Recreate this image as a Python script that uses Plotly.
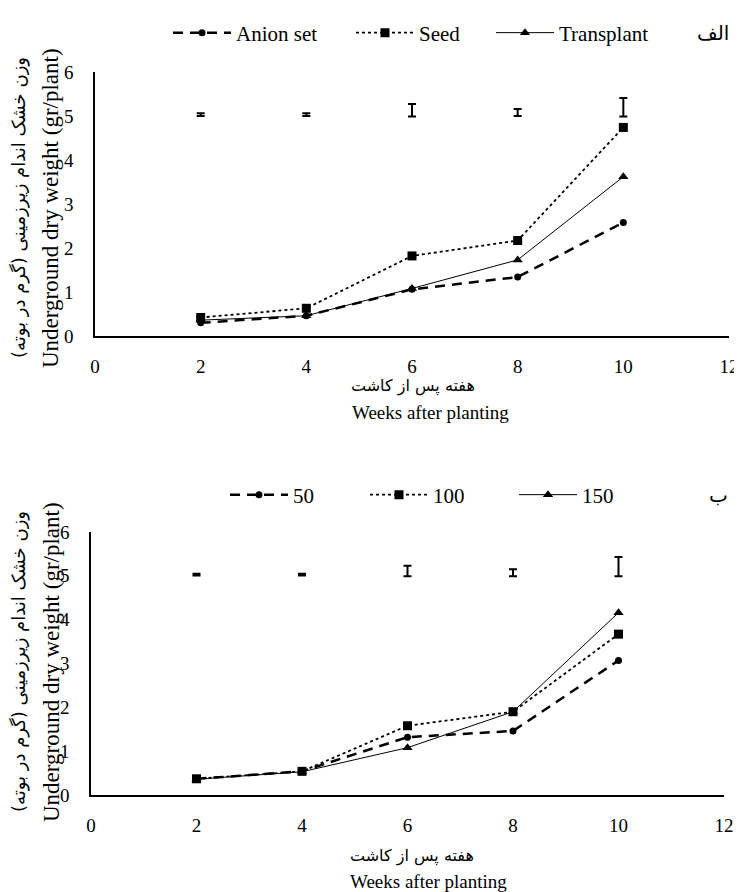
import plotly.graph_objects as go

W, H = 742, 892
PAGE_OFFSET = 8  # default body margin of the html page

# ---------------- data ----------------
weeks = [2, 4, 6, 8, 10]

# Panel A (الف)
anion_set = [0.30, 0.46, 1.06, 1.34, 2.58]
seed = [0.42, 0.63, 1.82, 2.17, 4.74]
transplant = [0.36, 0.46, 1.08, 1.73, 3.62]
err_center_a = [5.03, 5.03, 5.13, 5.08, 5.20]
err_half_a = [0.03, 0.03, 0.14, 0.08, 0.21]

# Panel B (ب)
d50 = [0.37, 0.54, 1.32, 1.46, 3.07]
d100 = [0.37, 0.54, 1.58, 1.90, 3.67]
d150 = [0.36, 0.53, 1.08, 1.90, 4.16]
err_center_b = [5.03, 5.03, 5.11, 5.07, 5.21]
err_half_b = [0.02, 0.02, 0.12, 0.08, 0.22]

names_a = ["Anion set", "Seed", "Transplant"]
names_b = ["50", "100", "150"]
x_ticks = [0, 2, 4, 6, 8, 10, 12]
y_ticks = [0, 1, 2, 3, 4, 5, 6]

y_title_fa = "وزن خشک اندام زیرزمینی (گرم در بوته)"
y_title_en = "Underground dry weight (gr/plant)"
x_title_fa = "هفته پس از کاشت"
x_title_en = "Weeks after planting"

SERIF = "Times New Roman, Liberation Serif, serif"
ARAB = "DejaVu Sans"


def px(x):
    return (x - PAGE_OFFSET) / W


def py(y):
    return 1 - (y - PAGE_OFFSET) / H


styles = [
    dict(line=dict(color="black", width=2.5, dash="10px,7px"), marker=dict(symbol="circle", size=7, color="black")),
    dict(line=dict(color="black", width=1.8, dash="dot"), marker=dict(symbol="square", size=9, color="black")),
    dict(line=dict(color="black", width=1), marker=dict(symbol="triangle-up", size=9, color="black")),
]

fig = go.Figure()

legend_ids_a = ["legend", "legend2", "legend3"]
legend_ids_b = ["legend4", "legend5", "legend6"]

for series, name, st, lg in zip([anion_set, seed, transplant], names_a, styles, legend_ids_a):
    fig.add_trace(go.Scatter(x=weeks, y=series, name=name, mode="lines+markers",
                             line=st["line"], marker=st["marker"], xaxis="x", yaxis="y",
                             legend=lg))
fig.add_trace(go.Scatter(x=weeks, y=err_center_a, mode="markers", marker=dict(size=0.1, color="black"),
                         error_y=dict(type="data", array=err_half_a, color="black", thickness=2, width=4),
                         showlegend=False, xaxis="x", yaxis="y"))

for series, name, st, lg in zip([d50, d100, d150], names_b, styles, legend_ids_b):
    fig.add_trace(go.Scatter(x=weeks, y=series, name=name, mode="lines+markers",
                             line=st["line"], marker=st["marker"], xaxis="x2", yaxis="y2",
                             legend=lg))
fig.add_trace(go.Scatter(x=weeks, y=err_center_b, mode="markers", marker=dict(size=0.1, color="black"),
                         error_y=dict(type="data", array=err_half_b, color="black", thickness=2, width=4),
                         showlegend=False, xaxis="x2", yaxis="y2"))

axis_common = dict(showgrid=False, zeroline=False, showline=True, linecolor="black", linewidth=1.5,
                   ticks="", tickfont=dict(family=SERIF, size=19, color="black"))

layout = dict(
    width=W, height=H,
    margin=dict(l=0, r=0, t=0, b=0, autoexpand=False),
    paper_bgcolor="white", plot_bgcolor="white",
    xaxis=dict(domain=[px(95), px(729)], range=[0, 12], tickvals=x_ticks, anchor="y",
               ticklabelstandoff=12, **axis_common),
    yaxis=dict(domain=[py(336), py(72)], range=[0, 6], tickvals=y_ticks, anchor="x",
               ticklabelstandoff=16, **axis_common),
    xaxis2=dict(domain=[px(91), px(724)], range=[0, 12], tickvals=x_ticks, anchor="y2",
                ticklabelstandoff=12, **axis_common),
    yaxis2=dict(domain=[py(795), py(532)], range=[0, 6], tickvals=y_ticks, anchor="x2",
                ticklabelstandoff=16, **axis_common),
    showlegend=True,
)

legend_x = {"legend": 168, "legend2": 351, "legend3": 491,
            "legend4": 225, "legend5": 365, "legend6": 514}
legend_y = {"legend": 33, "legend2": 33, "legend3": 33,
            "legend4": 495, "legend5": 495, "legend6": 495}
for lg in legend_x:
    layout[lg] = dict(orientation="h", x=px(legend_x[lg]), xanchor="left", y=py(legend_y[lg]),
                      yanchor="middle", font=dict(family=SERIF, size=21, color="black"),
                      bgcolor="rgba(0,0,0,0)", itemwidth=58)
fig.update_layout(**layout)

ann = []
# panel labels
ann.append(dict(x=px(713), y=py(33), text="الف", font=dict(family=ARAB, size=20, color="black")))
ann.append(dict(x=px(718), y=py(495), text="ب", font=dict(family=ARAB, size=20, color="black")))
# y titles
for cy in (208, 662):
    ann.append(dict(x=px(19), y=py(cy), text=y_title_fa, textangle=-90,
                    font=dict(family=ARAB, size=18, color="black")))
    ann.append(dict(x=px(51), y=py(cy), text=y_title_en, textangle=-90,
                    font=dict(family=SERIF, size=23, color="black")))
# x titles
for fy, ey, fx, ex in ((386, 412, 413, 430), (856, 881, 412, 428)):
    ann.append(dict(x=px(fx), y=py(fy), text=x_title_fa, font=dict(family=ARAB, size=16, color="black")))
    ann.append(dict(x=px(ex), y=py(ey), text=x_title_en, font=dict(family=SERIF, size=19, color="black")))

for a in ann:
    a.update(xref="paper", yref="paper", showarrow=False, xanchor="center", yanchor="middle")
fig.update_layout(annotations=ann)

fig.write_html("out.html")
